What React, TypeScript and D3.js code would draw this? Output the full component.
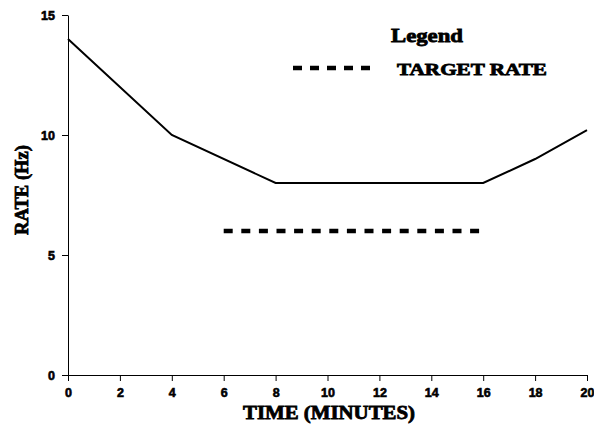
import React, { useEffect, useRef } from 'react';
import * as d3 from 'd3';

// rate over time (minutes, Hz)
const times = [0, 4, 8, 16, 18, 20];
const rates = [14, 10, 8, 8, 9, 10.2];

// target rate segment
const targetTimes = [6, 16];
const targetRates = [6, 6];

const xTicks = [0, 2, 4, 6, 8, 10, 12, 14, 16, 18, 20];
const yTicks = [0, 5, 10, 15];

const W = 594;
const H = 429;

export default function App() {
    const ref = useRef<SVGSVGElement>(null);

    useEffect(() => {
        const svg = d3.select(ref.current);
        svg.selectAll('*').remove();

        const x = d3.scaleLinear().domain([0, 20]).range([68, 587]);
        const y = d3.scaleLinear().domain([0, 15]).range([375, 15]);

        const xAxis = svg
            .append('g')
            .attr('transform', 'translate(0,375)')
            .call(d3.axisBottom(x).tickValues(xTicks).tickSize(6).tickSizeOuter(0).tickPadding(7));
        const yAxis = svg
            .append('g')
            .attr('transform', 'translate(68,0)')
            .call(d3.axisLeft(y).tickValues(yTicks).tickSize(6).tickSizeOuter(0).tickPadding(7));

        [xAxis, yAxis].forEach((a) => {
            a.selectAll('path,line').attr('stroke', '#000').attr('stroke-width', 1);
            a.selectAll('text')
                .attr('fill', '#000')
                .attr('stroke', '#000')
                .attr('stroke-width', 0.6)
                .style('font-family', '"Liberation Sans", Arial, sans-serif')
                .style('font-weight', 'bold')
                .style('font-size', '12.5px');
        });

        const line = d3
            .line<number>()
            .x((d, i) => x(times[i]))
            .y((d) => y(d));
        svg.append('path')
            .datum(rates)
            .attr('d', line)
            .attr('fill', 'none')
            .attr('stroke', '#000')
            .attr('stroke-width', 2);

        const tline = d3
            .line<number>()
            .x((d, i) => x(targetTimes[i]))
            .y((d) => y(d));
        svg.append('path')
            .datum(targetRates)
            .attr('d', tline)
            .attr('fill', 'none')
            .attr('stroke', '#000')
            .attr('stroke-width', 4.5)
            .attr('stroke-dasharray', '9,8.6');

        const serif = '"Liberation Serif", "Times New Roman", serif';
        const label = (t: d3.Selection<SVGTextElement, unknown, null, undefined>, size: number, len: number) =>
            t
                .attr('fill', '#000')
                .attr('stroke', '#000')
                .attr('stroke-width', 0.8)
                .attr('textLength', len)
                .attr('lengthAdjust', 'spacingAndGlyphs')
                .style('font-family', serif)
                .style('font-weight', 'bold')
                .style('font-size', size + 'px');

        label(svg.append('text').attr('x', 243).attr('y', 419), 19, 172).text('TIME (MINUTES)');

        label(svg.append('text').attr('transform', 'translate(28,235) rotate(-90)'), 19, 90).text('RATE (Hz)');

        // legend
        label(svg.append('text').attr('x', 391).attr('y', 42), 19, 72).text('Legend');

        svg.append('line')
            .attr('x1', 293)
            .attr('x2', 371)
            .attr('y1', 68)
            .attr('y2', 68)
            .attr('stroke', '#000')
            .attr('stroke-width', 4.5)
            .attr('stroke-dasharray', '9,8');

        label(svg.append('text').attr('x', 397).attr('y', 75), 17, 150).text('TARGET RATE');
    }, []);

    return (
        <svg
            ref={ref}
            width={W}
            height={H}
            style={{ position: 'absolute', left: 0, top: 0, background: '#fff' }}
        />
    );
}
